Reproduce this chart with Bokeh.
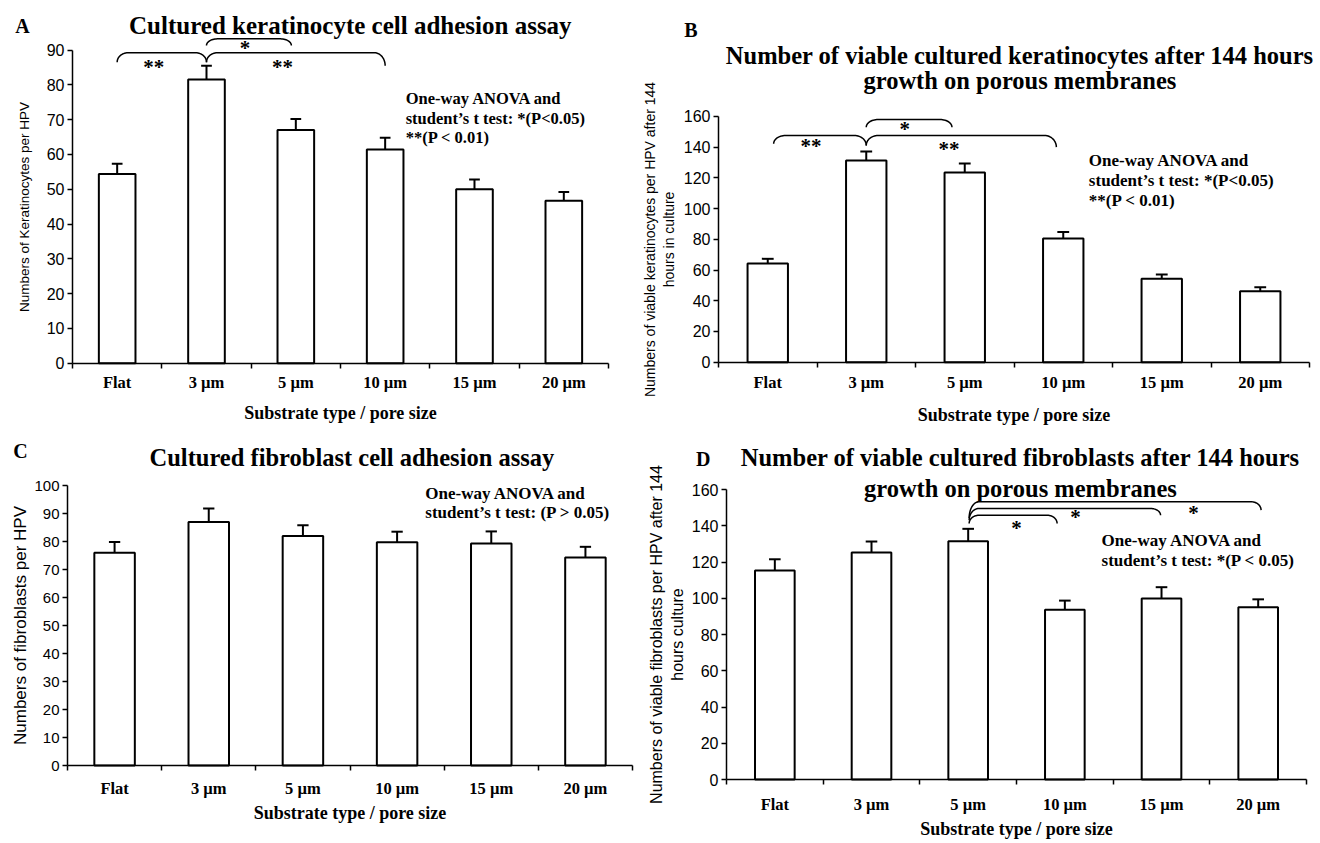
import numpy as np
from bokeh.plotting import figure
from bokeh.models import Range1d, FixedTicker, Label
from bokeh.layouts import row, column
from bokeh.embed import file_html
from bokeh.resources import INLINE

# ---------------- data ----------------
categories = ["Flat", "3 µm", "5 µm", "10 µm", "15 µm", "20 µm"]

a_mean = [54.4, 81.5, 67.0, 61.4, 50.0, 46.7]
a_err = [2.9, 4.0, 3.2, 3.4, 2.8, 2.5]

b_mean = [64.3, 131.3, 123.5, 80.5, 54.3, 46.2]
b_err = [3.0, 5.9, 5.9, 4.2, 2.8, 2.6]

c_mean = [76.0, 87.0, 82.0, 79.7, 79.3, 74.3]
c_err = [3.8, 4.8, 3.8, 3.8, 4.3, 3.8]

d_mean = [115.3, 125.2, 131.5, 93.7, 99.8, 95.0]
d_err = [6.2, 6.1, 6.8, 5.0, 6.3, 4.4]

SERIF = "Liberation Serif"
SANS = "Liberation Sans"


def brace(p, xa, xb, top, drop_l, drop_r, rx=0.12):
    t = np.linspace(0, np.pi / 2, 16)
    cxl, cyl = xa + rx, top - drop_l
    xl = cxl - rx * np.cos(t)
    yl = cyl + drop_l * np.sin(t)
    cxr, cyr = xb - rx, top - drop_r
    xr = cxr + rx * np.sin(t)
    yr = cyr + drop_r * np.cos(t)
    p.line(np.concatenate([xl, xr]), np.concatenate([yl, yr]),
           line_color="black", line_width=1.5)


def star(p, x, y, txt):
    p.add_layout(Label(x=x, y=y, text=txt, text_align="center", text_baseline="middle",
                       text_color="black", text_font=SERIF, text_font_style="bold",
                       text_font_size="21px"))


def text(p, x, y, txt, size="16px", align="left"):
    p.add_layout(Label(x=x, y=y, text=txt, text_align=align, text_baseline="middle",
                       text_color="black", text_font=SERIF, text_font_style="bold",
                       text_font_size=size))


def panel(W, H, px0, cat_w, y0_px, y_scale, y_max, y_step, mean, err, ylabel,
          ylabel_size, ylabel_std, tick_size, lab_std, title_std, bar_w=0.41):
    n = len(categories)
    x_lo = -0.5 - px0 / cat_w
    x_hi = -0.5 + (W - px0) / cat_w
    y_hi = y0_px / y_scale
    y_lo = -(H - y0_px) / y_scale
    p = figure(width=W, height=H, x_range=Range1d(x_lo, x_hi),
               y_range=Range1d(y_lo, y_hi), output_backend="svg", toolbar_location=None,
               min_border_left=0, min_border_right=0, min_border_top=0,
               min_border_bottom=0)
    p.xgrid.visible = False
    p.ygrid.visible = False
    p.outline_line_color = None
    p.background_fill_color = "white"
    p.border_fill_color = "white"

    xs = np.arange(n)
    m = np.array(mean)
    e = np.array(err)
    p.vbar(x=xs, top=m, width=bar_w, fill_color="white", line_color="black", line_width=2)
    p.segment(x0=xs, y0=m, x1=xs, y1=m + e, line_color="black", line_width=2)
    p.segment(x0=xs - 0.06, y0=m + e, x1=xs + 0.06, y1=m + e, line_color="black",
              line_width=2)

    ya = p.yaxis[0]
    ya.fixed_location = -0.5
    ya.ticker = FixedTicker(ticks=list(range(0, y_max + 1, y_step)), minor_ticks=[])
    ya.bounds = (0, y_max)
    ya.major_tick_out = 5
    ya.major_tick_in = 0
    ya.minor_tick_out = 0
    ya.minor_tick_in = 0
    ya.axis_line_width = 1.5
    ya.axis_line_color = "black"
    ya.major_tick_line_width = 1.5
    ya.major_tick_line_color = "black"
    ya.major_label_text_font = SANS
    ya.major_label_text_color = "black"
    ya.major_label_text_font_size = tick_size
    ya.major_label_standoff = 3
    ya.axis_label = ylabel
    ya.axis_label_text_font = SANS
    ya.axis_label_text_color = "black"
    ya.axis_label_text_font_style = "normal"
    ya.axis_label_text_font_size = ylabel_size
    ya.axis_label_standoff = ylabel_std

    xa = p.xaxis[0]
    xa.fixed_location = 0
    xa.ticker = FixedTicker(ticks=list(range(n)),
                            minor_ticks=[i - 0.5 for i in range(n + 1)])
    xa.bounds = (-0.5, n - 0.5)
    xa.major_label_overrides = {i: c for i, c in enumerate(categories)}
    xa.major_tick_out = 0
    xa.major_tick_in = 0
    xa.minor_tick_out = 5
    xa.minor_tick_in = 0
    xa.minor_tick_line_width = 1.5
    xa.minor_tick_line_color = "black"
    xa.axis_line_width = 1.5
    xa.axis_line_color = "black"
    xa.major_label_text_font = SERIF
    xa.major_label_text_color = "black"
    xa.major_label_text_font_style = "bold"
    xa.major_label_text_font_size = "16.5px"
    xa.major_label_standoff = lab_std
    xa.axis_label = "Substrate type / pore size"
    xa.axis_label_text_font = SERIF
    xa.axis_label_text_color = "black"
    xa.axis_label_text_font_style = "bold"
    xa.axis_label_text_font_size = "18px"
    xa.axis_label_standoff = title_std
    return p


# ---------------- Panel A ----------------
pA = panel(640, 425, 72, 89.33, 362.7, 3.48, 90, 10, a_mean, a_err,
           "Numbers of Keratinocytes per HPV", "13.5px", 12, "16px", 5, 7)
text(pA, -1.06, 97.0, "A", size="20px", align="center")
text(pA, 2.61, 97.0, "Cultured keratinocyte cell adhesion assay", size="25px", align="center")
brace(pA, 0.0, 1.0, 89.2, 2.7, 2.7)
brace(pA, 1.0, 3.0, 89.2, 2.7, 3.7)
brace(pA, 1.0, 1.95, 93.2, 1.9, 1.9)
star(pA, 0.41, 85.0, "**")
star(pA, 1.85, 85.0, "**")
star(pA, 1.43, 90.7, "*")
text(pA, 3.23, 76.0, "One-way ANOVA and", size="16.5px")
text(pA, 3.23, 70.2, "student\u2019s t test: *(P<0.05)", size="16.5px")
text(pA, 3.23, 64.8, "**(P < 0.01)", size="16.5px")

# ---------------- Panel B ----------------
pB = panel(680, 425, 78, 98.5, 361.7, 1.536, 160, 20, b_mean, b_err,
           "Numbers of viable keratinocytes per HPV after 144\nhours in culture",
           "14px", 4, "16px", 6, 9)
text(pB, -0.78, 216, "B", size="20px", align="center")
text(pB, 2.56, 199.7, "Number of viable cultured keratinocytes after 144 hours",
     size="24.5px", align="center")
text(pB, 2.56, 183.4, "growth on porous membranes", size="24.5px", align="center")
brace(pB, 0.06, 1.0, 147.6, 5.4, 6.5)
brace(pB, 1.0, 2.93, 147.6, 6.5, 7.6)
brace(pB, 1.0, 1.87, 158.0, 5.0, 5.0)
star(pB, 0.44, 140.9, "**")
star(pB, 1.84, 138.7, "**")
star(pB, 1.39, 151.7, "*")
text(pB, 3.26, 131.3, "One-way ANOVA and", size="17px")
text(pB, 3.26, 118.3, "student\u2019s t test: *(P<0.05)", size="17px")
text(pB, 3.26, 105.3, "**(P < 0.01)", size="17px")

# ---------------- Panel C ----------------
pC = panel(640, 418, 67, 94.17, 340, 2.8, 100, 10, c_mean, c_err,
           "Numbers of fibroblasts per HPV", "17px", 1, "15px", 8, 2, bar_w=0.43)
text(pC, -1.0, 112.5, "C", size="20px", align="center")
text(pC, 2.52, 110.1, "Cultured fibroblast cell adhesion assay", size="24.5px",
     align="center")
text(pC, 3.3, 97.2, "One-way ANOVA and", size="17px")
text(pC, 3.3, 90.3, "student\u2019s t test: (P > 0.05)", size="17px")

# ---------------- Panel D ----------------
pD = panel(680, 418, 86, 96.67, 354, 1.8125, 160, 20, d_mean, d_err,
           "Numbers of viable fibroblasts per HPV after 144\nhours culture",
           "16px", 3, "16px", 10, 2)
text(pD, -0.74, 176.6, "D", size="20px", align="center")
text(pD, 2.54, 177.8, "Number of viable cultured fibroblasts after 144 hours",
     size="24.5px", align="center")
text(pD, 2.54, 160.6, "growth on porous membranes", size="24.5px", align="center")
brace(pD, 2.01, 2.92, 145.8, 4.6, 4.6, rx=0.1)
brace(pD, 2.01, 3.99, 149.5, 6.5, 3.7, rx=0.1)
brace(pD, 2.01, 5.03, 153.2, 9.0, 4.6, rx=0.1)
star(pD, 2.5, 139.0, "*")
star(pD, 3.11, 144.6, "*")
star(pD, 4.33, 147.3, "*")
text(pD, 3.38, 131.9, "One-way ANOVA and", size="17px")
text(pD, 3.38, 120.8, "student\u2019s t test: *(P < 0.05)", size="17px")

layout = column(row(pA, pB), row(pC, pD))
open("out.html", "w").write(file_html(layout, INLINE))
